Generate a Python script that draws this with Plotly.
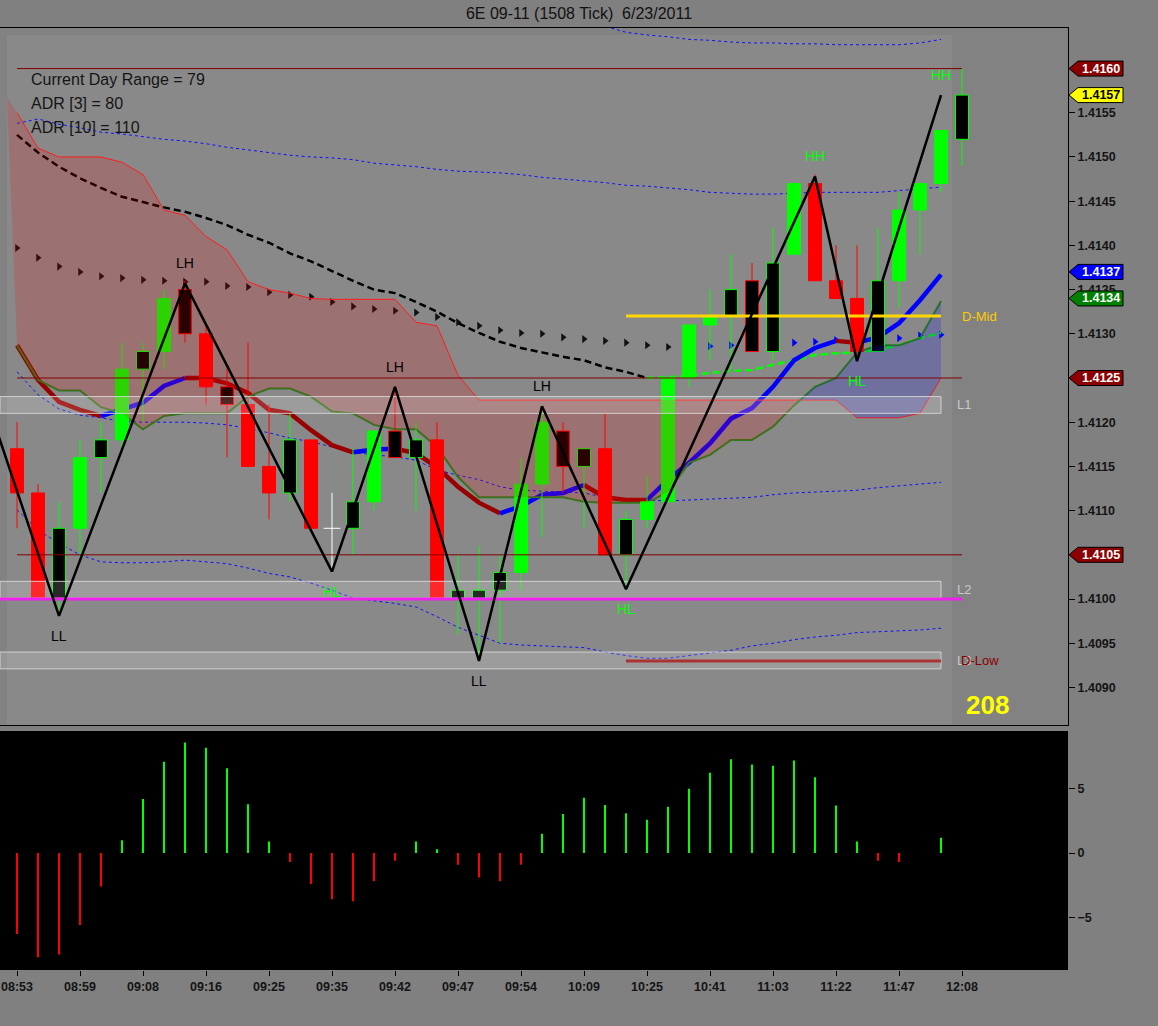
import plotly.graph_objects as go

# ---- data (6E 09-11, 1508 tick bars) ----
times = ["08:53", "08:59", "09:08", "09:16", "09:25", "09:35", "09:42", "09:47",
         "09:54", "10:09", "10:25", "10:41", "11:03", "11:22", "11:47", "12:08"]

opens = [1.4117, 1.4112, 1.4100, 1.4108, 1.4116, 1.4118, 1.4126, 1.4128, 1.4135, 1.4130,
         1.4124, 1.4122, 1.4115, 1.4112, 1.4118, 1.4108, 1.4108, 1.4111, 1.4119, 1.4116,
         1.4118, 1.4100, 1.4100, 1.4101, 1.4103, 1.4113, 1.4119, 1.4115, 1.4117, 1.4105,
         1.4109, 1.4111, 1.4125, 1.4131, 1.4132, 1.4136, 1.4128, 1.4139, 1.4147, 1.4136,
         1.4134, 1.4128, 1.4136, 1.4144, 1.4147, 1.4152]
highs = [1.4120, 1.4113, 1.4111, 1.4118, 1.4120, 1.4129, 1.4129, 1.4135, 1.4136, 1.4131,
         1.4126, 1.4129, 1.4122, 1.4121, 1.4118, 1.4112, 1.4117, 1.4119, 1.4124, 1.4120,
         1.4120, 1.4105, 1.4106, 1.4105, 1.4116, 1.4122, 1.4120, 1.4117, 1.4121, 1.4110,
         1.4114, 1.4125, 1.4131, 1.4135, 1.4139, 1.4138, 1.4142, 1.4147, 1.4148, 1.4140,
         1.4140, 1.4142, 1.4146, 1.4147, 1.4153, 1.4160]
lows = [1.4108, 1.4100, 1.4098, 1.4105, 1.4112, 1.4117, 1.4120, 1.4126, 1.4129, 1.4122,
        1.4116, 1.4115, 1.4109, 1.4111, 1.4108, 1.4103, 1.4105, 1.4110, 1.4116, 1.4110,
        1.4100, 1.4096, 1.4093, 1.4095, 1.4101, 1.4107, 1.4112, 1.4108, 1.4105, 1.4101,
        1.4108, 1.4111, 1.4124, 1.4127, 1.4126, 1.4128, 1.4127, 1.4139, 1.4136, 1.4134,
        1.4127, 1.4128, 1.4133, 1.4139, 1.4146, 1.4149]
closes = [1.4112, 1.4100, 1.4108, 1.4116, 1.4118, 1.4126, 1.4128, 1.4134, 1.4130, 1.4124,
          1.4122, 1.4115, 1.4112, 1.4118, 1.4108, 1.4108, 1.4111, 1.4119, 1.4116, 1.4118,
          1.4100, 1.4101, 1.4101, 1.4103, 1.4113, 1.4120, 1.4115, 1.4117, 1.4105, 1.4109,
          1.4111, 1.4125, 1.4131, 1.4132, 1.4135, 1.4128, 1.4138, 1.4147, 1.4136, 1.4134,
          1.4128, 1.4136, 1.4144, 1.4147, 1.4153, 1.4157]
# paint-bar signal (1 = bar painted with a black body)
painted = [0, 0, 1, 0, 1, 0, 1, 0, 1, 0, 1, 0, 0, 1, 0, 0, 1, 0, 1, 1,
           0, 1, 1, 1, 0, 0, 1, 1, 0, 1, 0, 0, 0, 0, 1, 1, 1, 0, 0, 0,
           0, 1, 0, 0, 0, 1]

# indicators (one value per completed bar)
ema = [1.41287, 1.41248, 1.41223, 1.41214, 1.41207, 1.41214, 1.41222, 1.41241, 1.41250, 1.41250,
       1.41244, 1.41233, 1.41214, 1.41210, 1.41191, 1.41174, 1.41166, 1.41169, 1.41170, 1.41165,
       1.41149, 1.41127, 1.41109, 1.41097, 1.41105, 1.41118, 1.41120, 1.41129, 1.41115, 1.41112,
       1.41112, 1.41135, 1.41154, 1.41176, 1.41204, 1.41216, 1.41240, 1.41270, 1.41284, 1.41292,
       1.41290, 1.41296, 1.41312, 1.41338, 1.41367]
cloud_a = [1.41550, 1.41510, 1.41500, 1.41500, 1.41500, 1.41494, 1.41480, 1.41440, 1.41434, 1.41410,
           1.41395, 1.41359, 1.41350, 1.41346, 1.41340, 1.41339, 1.41339, 1.41339, 1.41339, 1.41313,
           1.41309, 1.41253, 1.41225, 1.41225, 1.41225, 1.41225, 1.41225, 1.41225, 1.41225, 1.41225,
           1.41225, 1.41225, 1.41225, 1.41225, 1.41225, 1.41225, 1.41225, 1.41225, 1.41225, 1.41225,
           1.41205, 1.41205, 1.41205, 1.41210, 1.41250]
cloud_b = [1.41287, 1.41248, 1.41236, 1.41236, 1.41217, 1.41210, 1.41192, 1.41207, 1.41210, 1.41210,
           1.41210, 1.41229, 1.41238, 1.41238, 1.41229, 1.41212, 1.41210, 1.41197, 1.41192, 1.41192,
           1.41172, 1.41138, 1.41115, 1.41115, 1.41115, 1.41115, 1.41115, 1.41110, 1.41109, 1.41109,
           1.41109, 1.41121, 1.41154, 1.41163, 1.41180, 1.41180, 1.41195, 1.41219, 1.41240, 1.41250,
           1.41279, 1.41287, 1.41287, 1.41295, 1.41337]
cloud_x0, cloud_y0 = -0.48, 1.41568
slow_ma = [1.41525, 1.41505, 1.41489, 1.41476, 1.41465, 1.41455, 1.41449, 1.41443, 1.41438, 1.41431,
           1.41423, 1.41412, 1.41403, 1.41391, 1.41382, 1.41371, 1.41360, 1.41350, 1.41346, 1.41336,
           1.41325, 1.41312, 1.41301, 1.41291, 1.41284, 1.41279, 1.41274, 1.41270, 1.41262, 1.41257,
           1.41250, 1.41251, 1.41252, 1.41256, 1.41258, 1.41259, 1.41265, 1.41270, 1.41276, 1.41278,
           1.41279, 1.41282, 1.41287, 1.41295, 1.41301]
trail = [1.41397, 1.41386, 1.41376, 1.41370, 1.41365, 1.41363, 1.41361, 1.41360, 1.41359, 1.41359,
         1.41354, 1.41353, 1.41347, 1.41344, 1.41342, 1.41336, 1.41331, 1.41328, 1.41326, 1.41324,
         1.41319, 1.41313, 1.41309, 1.41304, 1.41301, 1.41300, 1.41296, 1.41294, 1.41292, 1.41290,
         1.41287, 1.41285, 1.41285, 1.41286, 1.41287, 1.41287, 1.41288, 1.41290, 1.41291, 1.41293,
         1.41294, 1.41294, 1.41295, 1.41298, 1.41299]
band_top = [None] * 27 + [1.41660, 1.41648, 1.41641, 1.41638, 1.41636, 1.41633, 1.41632, 1.41630,
                          1.41629, 1.41629, 1.41628, 1.41628, 1.41627, 1.41627, 1.41627, 1.41627,
                          1.41629, 1.41633]
band_hi = [1.41538, 1.41543, 1.41537, 1.41533, 1.41528, 1.41526, 1.41523, 1.41520, 1.41518, 1.41515,
           1.41511, 1.41508, 1.41505, 1.41502, 1.41500, 1.41499, 1.41497, 1.41493, 1.41491, 1.41489,
           1.41486, 1.41484, 1.41483, 1.41482, 1.41480, 1.41477, 1.41475, 1.41473, 1.41471, 1.41468,
           1.41467, 1.41465, 1.41463, 1.41460, 1.41459, 1.41458, 1.41458, 1.41459, 1.41460, 1.41460,
           1.41460, 1.41460, 1.41462, 1.41464, 1.41466]
band_mid = [1.41257, 1.41231, 1.41215, 1.41208, 1.41205, 1.41201, 1.41200, 1.41200, 1.41200, 1.41199,
            1.41197, 1.41193, 1.41188, 1.41182, 1.41178, 1.41172, 1.41166, 1.41163, 1.41161, 1.41157,
            1.41146, 1.41140, 1.41135, 1.41127, 1.41123, 1.41122, 1.41121, 1.41120, 1.41115, 1.41112,
            1.41112, 1.41111, 1.41112, 1.41113, 1.41114, 1.41115, 1.41118, 1.41120, 1.41121, 1.41122,
            1.41123, 1.41126, 1.41128, 1.41130, 1.41132]
band_lo = [1.41101, 1.41078, 1.41063, 1.41050, 1.41042, 1.41041, 1.41041, 1.41042, 1.41044, 1.41042,
           1.41040, 1.41035, 1.41029, 1.41025, 1.41018, 1.41010, 1.41001, 1.40998, 1.40995, 1.40991,
           1.40980, 1.40968, 1.40959, 1.40950, 1.40948, 1.40947, 1.40946, 1.40945, 1.40940, 1.40936,
           1.40933, 1.40933, 1.40936, 1.40939, 1.40942, 1.40947, 1.40950, 1.40954, 1.40957, 1.40959,
           1.40962, 1.40963, 1.40964, 1.40965, 1.40967]

momentum = [-6.3, -8.1, -7.9, -5.6, -2.6, 1.0, 4.2, 7.1, 8.6, 8.2,
            6.6, 3.8, 0.9, -0.7, -2.4, -3.6, -3.75, -2.2, -0.6, 0.9,
            0.3, -0.9, -1.9, -2.2, -0.9, 1.5, 3.05, 4.3, 3.75, 3.1,
            2.6, 3.6, 5.0, 6.25, 7.3, 6.9, 6.8, 7.2, 5.9, 3.7,
            0.9, -0.6, -0.7, 0.0, 1.2, 0.0]

zz_x = [-1, 2, 8, 15, 18, 22, 25, 29, 38, 40, 44]
zz_y = [1.41193, 1.40981, 1.41357, 1.41031, 1.41240, 1.40930, 1.41218, 1.41011, 1.41478, 1.41269, 1.41570]
zz_lab = ["LL", "LH", "HL", "LH", "LL", "LH", "HL", "HH", "HL", "HH"]

day_high = 1.4160
level_up = 1.4125
level_dn = 1.4105
level_round = 1.4100
d_mid = 1.4132
d_low = 1.4093
zone_names = ["L1", "L2", "L3"]
zone_lo = [1.41210, 1.41001, 1.40921]
zone_hi = [1.41229, 1.41020, 1.40940]

info_lines = ["Current Day Range = 79", "ADR [3] = 80", "ADR [10] = 110"]
tick_count = "208"

# ---- drawing ----
FONT = "Arial, Liberation Sans, sans-serif"
GREEN = "#00ff00"
RED = "#ff0000"
DARKRED = "#8b0000"
X_LEFT = -17 / 21
X_RIGHT = 1051 / 21
Y_LO, Y_HI = 1.408575, 1.416459
TICKFONT = dict(family=FONT, size=12.5, color="#141414", weight="bold")

n = len(closes)
idx = list(range(n))
ind_idx = list(range(len(ema)))

fig = go.Figure()


def line(x, y, color, width=1, dash=None, **kw):
    fig.add_trace(go.Scatter(x=x, y=y, mode="lines", hoverinfo="skip",
                             line=dict(color=color, width=width, dash=dash), **kw))


def runs(vals):
    out = []
    for i in range(len(vals) - 1):
        up = vals[i + 1] > vals[i]
        if out and out[-1][0] == up:
            out[-1][1].append(i + 1)
        else:
            out.append((up, [i, i + 1]))
    return out


# bands
for band in (band_top, band_hi, band_mid, band_lo):
    line(ind_idx, band, "#1010ff", 1, "dot")

# trailing triangles
tri_col = ["#0000ff" if closes[i] > slow_ma[i] else "#111111" for i in ind_idx]
fig.add_trace(go.Scatter(x=ind_idx, y=trail, mode="markers", hoverinfo="skip",
                         marker=dict(symbol="triangle-right", size=7, color=tri_col)))

# slow dashed MA, black falling / green rising
for up, ii in runs(slow_ma):
    line(ii, [slow_ma[i] for i in ii], GREEN if up else "black", 2.5, "7px,4px")

# thick EMA, blue rising / maroon falling
for up, ii in runs(ema):
    line(ii, [ema[i] for i in ii], "#0000ff" if up else "#990000", 4.5)

line(ind_idx, cloud_a, "#ff2020", 1)
line(ind_idx, cloud_b, "#2d7a1f", 2)

# candles: wicks then bodies
wicks = {}
for i in idx:
    o, c = opens[i], closes[i]
    col = "white" if o == c else (GREEN if c > o else RED)
    wx, wy = wicks.setdefault(col, ([], []))
    wx += [i, i, None]
    wy += [lows[i], highs[i], None]
for col, (wx, wy) in wicks.items():
    line(wx, wy, col, 1)

HALF = 0.31
bodies = {}
for i in idx:
    o, c = opens[i], closes[i]
    if o == c:
        continue
    up = c > o
    fill = "black" if painted[i] else (GREEN if up else RED)
    edge = GREEN if up else RED
    lo, hi = min(o, c), max(o, c)
    bx, by = bodies.setdefault((fill, edge), ([], []))
    bx += [i - HALF, i + HALF, i + HALF, i - HALF, i - HALF, None]
    by += [lo, lo, hi, hi, lo, None]
for (fill, edge), (bx, by) in bodies.items():
    fig.add_trace(go.Scatter(x=bx, y=by, mode="lines", fill="toself", fillcolor=fill,
                             line=dict(color=edge, width=1), hoverinfo="skip"))

doji = [i for i in idx if opens[i] == closes[i]]
fig.add_trace(go.Scatter(x=doji, y=[closes[i] for i in doji], mode="markers", hoverinfo="skip",
                         marker=dict(symbol="line-ew", size=12, line=dict(color="white", width=1))))

# cloud between cloud_a and cloud_b (pink when a above, blue when b above)
cx = [cloud_x0] + ind_idx
ca = [cloud_y0] + cloud_a
cb = [cloud_y0] + cloud_b
seg = [(cx[0], ca[0], cb[0])]
pieces = []
for i in range(len(cx) - 1):
    d0, d1 = ca[i] - cb[i], ca[i + 1] - cb[i + 1]
    if d0 * d1 < 0:
        t = d0 / (d0 - d1)
        xc = cx[i] + t * (cx[i + 1] - cx[i])
        yc = ca[i] + t * (ca[i + 1] - ca[i])
        seg.append((xc, yc, yc))
        pieces.append((d0 > 0, seg))
        seg = [(xc, yc, yc)]
    seg.append((cx[i + 1], ca[i + 1], cb[i + 1]))
pieces.append((ca[-1] >= cb[-1], seg))
for pink, s in pieces:
    px = [p[0] for p in s] + [p[0] for p in reversed(s)]
    py = [p[1] for p in s] + [p[2] for p in reversed(s)]
    fig.add_trace(go.Scatter(x=px, y=py, mode="lines", fill="toself", line=dict(width=0),
                             fillcolor="rgba(255,0,0,0.17)" if pink else "rgba(0,0,255,0.18)",
                             hoverinfo="skip"))

# L zones
z_end = ind_idx[-1]
for lo, hi in zip(zone_lo, zone_hi):
    fig.add_trace(go.Scatter(x=[X_LEFT, z_end, z_end, X_LEFT, X_LEFT], y=[lo, lo, hi, hi, lo],
                             mode="lines", fill="toself", fillcolor="rgba(255,255,255,0.16)",
                             line=dict(color="rgba(215,215,215,0.9)", width=1), hoverinfo="skip"))

# levels
for lv in (day_high, level_up, level_dn):
    line([0, n - 1], [lv, lv], "#800000", 1)
line([X_LEFT, n - 1], [level_round, level_round], "#ee22ee", 3)
line([29, z_end], [d_mid, d_mid], "#ffd700", 3)
line([29, z_end], [d_low, d_low], "#aa3333", 3)

# zigzag
line(zz_x, zz_y, "black", 2.5)

# momentum panel
fig.add_trace(go.Bar(x=idx, y=momentum, width=0.08, xaxis="x2", yaxis="y2", hoverinfo="skip",
                     marker=dict(color=[GREEN if v > 0 else RED for v in momentum], line=dict(width=0))))

ann = []
for k, lab in enumerate(zz_lab):
    ann.append(dict(x=zz_x[k + 1], y=zz_y[k + 1], xref="x", yref="y", text=lab, showarrow=False,
                    yshift=20 if lab[1] == "H" else -20,
                    font=dict(size=14, color=GREEN if lab[0] == "H" else "black")))

for k, t in enumerate(info_lines):
    ann.append(dict(x=29 / 1068, y=(645 - 24 * k) / 697, xref="x domain", yref="y domain",
                    text=t, showarrow=False, xanchor="left", yanchor="middle",
                    font=dict(size=16, color="#151515")))

for name, lo, hi in zip(zone_names, zone_lo, zone_hi):
    ann.append(dict(x=z_end, y=(lo + hi) / 2, xref="x", yref="y", text=name, showarrow=False,
                    xanchor="left", xshift=14, font=dict(size=13, color="#c8c8c8")))
ann.append(dict(x=z_end, y=d_mid, xref="x", yref="y", text="D-Mid", showarrow=False,
                xanchor="left", xshift=19, font=dict(size=13, color="#ffcc00")))
ann.append(dict(x=z_end, y=d_low, xref="x", yref="y", text="D-Low", showarrow=False,
                xanchor="left", xshift=18, font=dict(size=13, color="#8b0000")))
ann.append(dict(x=987 / 1068, y=20 / 697, xref="x domain", yref="y domain",
                text="<b>" + tick_count + "</b>", showarrow=False,
                xanchor="center", yanchor="middle",
                font=dict(size=26, color="#ffff00")))

shapes = [
    dict(type="rect", xref="x", yref="y", x0=-0.48, x1=44.52, y0=Y_LO, y1=1.41638,
         fillcolor="#898989", line=dict(width=0), layer="below"),
    dict(type="rect", xref="x2 domain", yref="y2 domain", x0=0, x1=1, y0=0, y1=1,
         fillcolor="black", line=dict(width=0), layer="below"),
]

# price tags on the right axis
tags = [(day_high, DARKRED, "white"), (closes[-1], "#ffff00", "black"),
        (ema[-1], "#0000ff", "white"), (cloud_b[-1], "#008000", "white"),
        (level_up, DARKRED, "white"), (level_dn, DARKRED, "white")]
tag_vals = [round(t[0], 4) for t in tags]
for (val, bg, fg), v in zip(tags, tag_vals):
    shapes.append(dict(type="path", xref="paper", yref="y", xsizemode="pixel", ysizemode="pixel",
                       xanchor=1, yanchor=v, path="M 1 0 L 10 7.5 L 55 7.5 L 55 -7.5 L 10 -7.5 Z",
                       fillcolor=bg, line=dict(color="black", width=1), layer="above"))
    ann.append(dict(x=1, y=v, xref="paper", yref="y", text="<b>%.4f</b>" % v, showarrow=False,
                    xanchor="center", xshift=33, font=dict(size=12.5, color=fg)))

# axis ticks, leaving out those hidden under the tags
price_ticks = [round(1.4090 + 0.0005 * k, 4) for k in range(15)]
price_ticks = [p for p in price_ticks if p not in tag_vals]

fig.update_layout(
    width=1158, height=1026,
    margin=dict(l=0, r=90, t=28, b=56),
    paper_bgcolor="#808080", plot_bgcolor="#828282",
    showlegend=False,
    font=dict(family=FONT, size=12.5, color="#000000"),
    title=dict(text="6E 09-11 (1508 Tick)  6/23/2011", x=0.5, xref="container", xanchor="center",
               y=1 - 13 / 1026, yref="container", yanchor="middle",
               font=dict(size=16, color="#111111")),
    xaxis=dict(domain=[0, 1], range=[X_LEFT, X_RIGHT], anchor="y", showticklabels=False,
               ticks="", showgrid=False, zeroline=False, showline=True, mirror=True,
               linecolor="black", linewidth=1),
    yaxis=dict(domain=[245 / 942, 1], range=[Y_LO, Y_HI], side="right", anchor="x",
               tickvals=price_ticks, tickformat=".4f", tickfont=TICKFONT,
               ticks="outside", ticklen=6, tickcolor="black", showgrid=False, zeroline=False,
               showline=True, mirror=True, linecolor="black", linewidth=1),
    xaxis2=dict(domain=[0, 1], range=[X_LEFT, X_RIGHT], anchor="y2",
                tickvals=list(range(0, n, 3)), ticktext=times, ticks="outside", ticklen=5,
                tickcolor="black", tickfont=TICKFONT, showgrid=False, zeroline=False,
                showline=False),
    yaxis2=dict(domain=[0, 239 / 942], range=[-9.1, 9.5], side="right", anchor="x2",
                tickvals=[-5, 0, 5], ticks="outside", ticklen=6, tickcolor="black",
                tickfont=TICKFONT, showgrid=False, zeroline=False, showline=False),
    annotations=ann,
    shapes=shapes,
)

fig.write_html("out.html", config={"displayModeBar": False},
               post_script="document.body.style.margin='0px';")
